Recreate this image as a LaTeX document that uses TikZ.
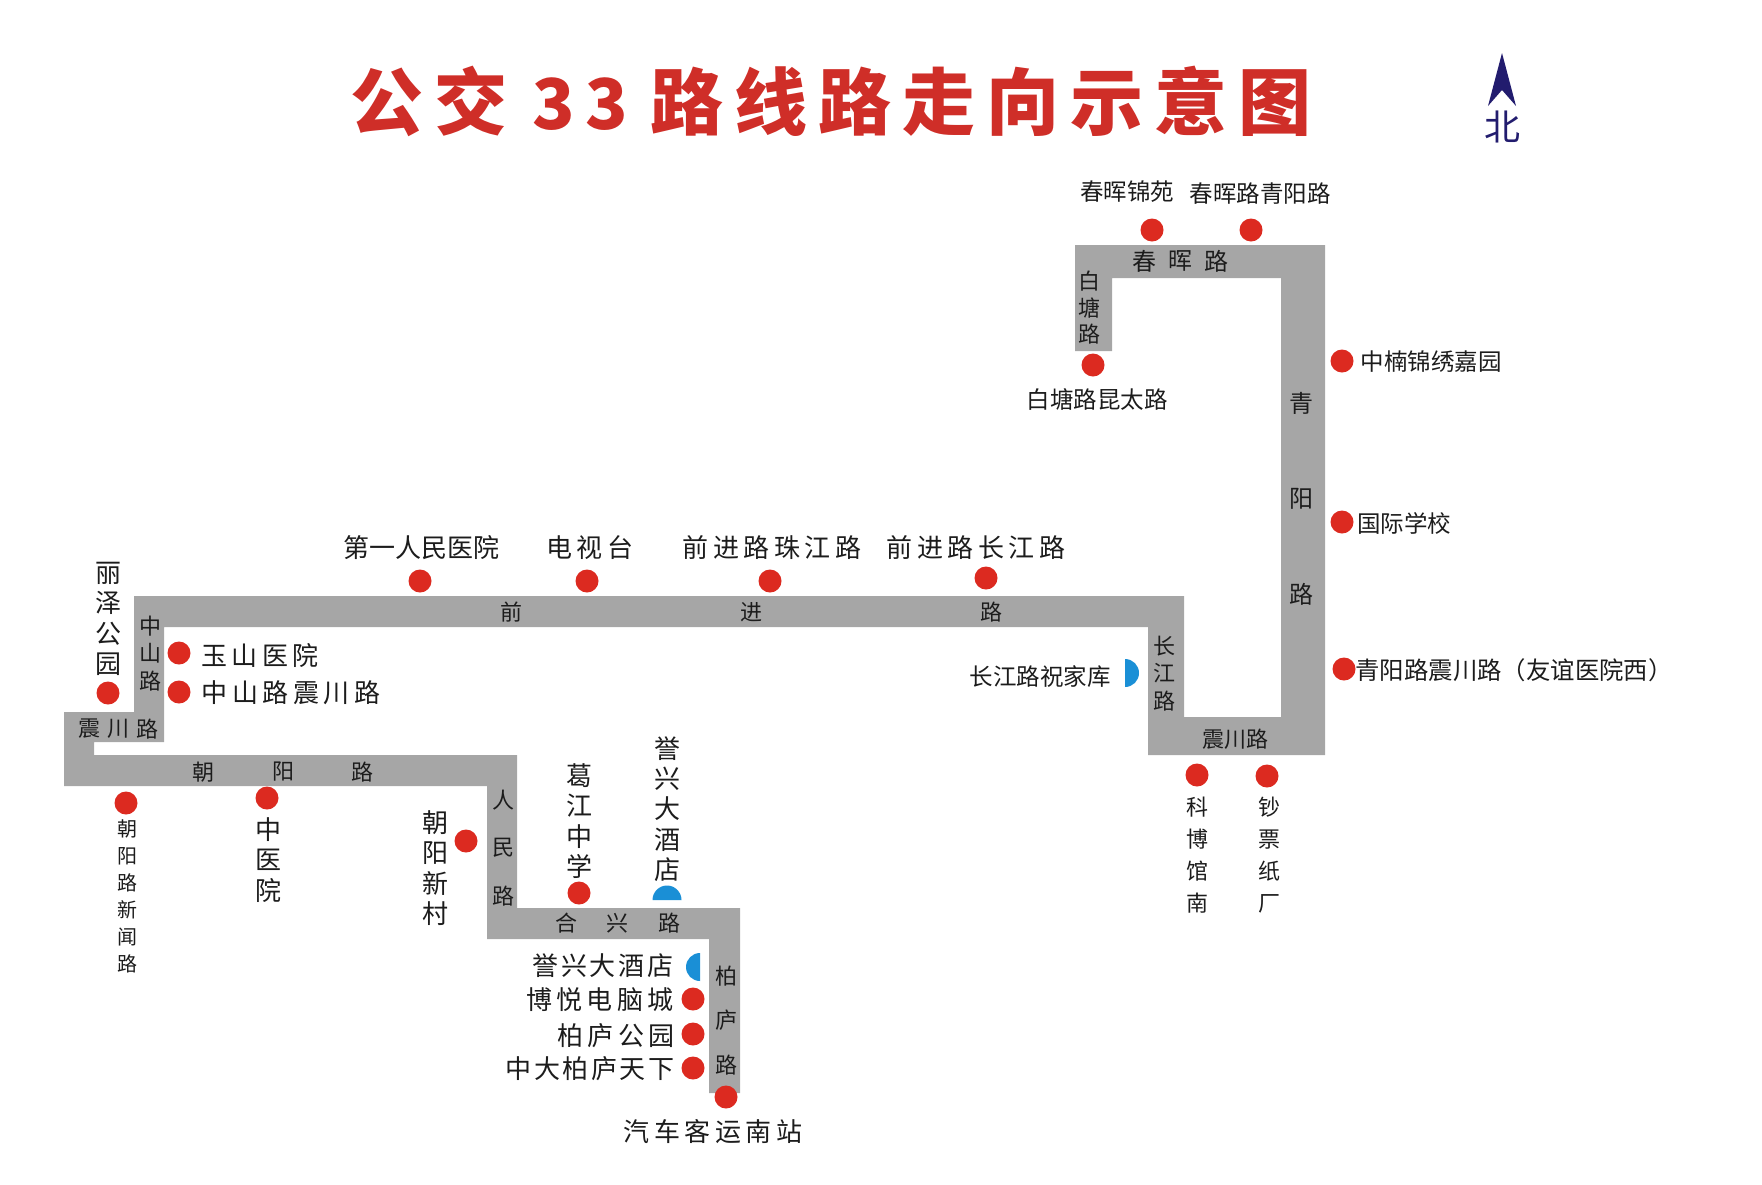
\documentclass[tikz,border=0pt]{standalone}
\usepackage{fontspec}
\setmainfont{Noto Sans CJK SC}
\newfontfamily\stopfont[LetterSpace=17]{Noto Sans CJK SC}
\newfontfamily\tightfont[LetterSpace=10]{Noto Sans CJK SC}
\newfontfamily\titlefont[LetterSpace=15]{Noto Sans CJK SC}

\definecolor{roadgray}{HTML}{A6A6A6}
\definecolor{stopred}{HTML}{DC2A20}
\definecolor{stopblue}{HTML}{1A8FD6}
\definecolor{titlered}{HTML}{CF2E28}
\definecolor{northblue}{HTML}{221C6E}
\definecolor{inkblack}{HTML}{1C1C1C}

\def\routepath{(64,712) -- (134,712) -- (134,596) -- (1184,596) -- (1184,717) -- (1281,717)
    -- (1281,278) -- (1112,278) -- (1112,351) -- (1075,351) -- (1075,245) -- (1325,245)
    -- (1325,755) -- (1148,755) -- (1148,627) -- (164,627) -- (164,742) -- (94,742)
    -- (94,755) -- (517,755) -- (517,908) -- (740,908) -- (740,1093) -- (709,1093)
    -- (709,939) -- (487,939) -- (487,786) -- (64,786) -- cycle}

\begin{document}
\begin{tikzpicture}[x=.5pt,y=-.5pt]
    \tikzset{
        stopdot/.style={circle, fill=stopred, minimum size=11.5pt, inner sep=0pt},
        halfdot/.style={fill=stopblue},
        basetxt/.style={inner sep=0pt, text=inkblack, align=center},
        stoptxt/.style={basetxt, font=\stopfont\fontsize{13}{15}\selectfont},
        tighttxt/.style={basetxt, font=\tightfont\fontsize{13}{15}\selectfont},
        thintxt/.style={basetxt, font=\fontsize{11.75}{14}\selectfont},
        vtxt/.style={basetxt, font=\fontsize{13}{15.2}\selectfont},
        vthintxt/.style={basetxt, font=\fontsize{11}{16}\selectfont},
        vtinytxt/.style={basetxt, font=\fontsize{10}{13.5}\selectfont},
        roadtxt/.style={basetxt, font=\fontsize{11}{13}\selectfont},
        roadbig/.style={basetxt, font=\fontsize{12}{14}\selectfont}
    }
    \useasboundingbox (0,0) rectangle (1762,1184);
    \fill[roadgray] \routepath;

    % title and north mark
    \node[inner sep=0pt, text=titlered, font=\titlefont\bfseries\fontsize{36.5}{42}\selectfont]
        (title) at (831,101) {公交\hspace{12.5pt}{\fontsize{35}{42}\selectfont 33}\hspace{11pt}路线路走向示意图};
    \fill[northblue] (1502,53) -- (1516,106) -- (1502,90) -- (1488,106) -- cycle;
    \node[inner sep=0pt, text=northblue, font=\fontsize{18}{20}\selectfont] (north) at (1502,127) {北};

    % stops
    \foreach \n/\x/\y in {jinyuan/1152/230, qingyang/1251/230, zhongnan/1342/361, kuntai/1093/365,
        guoji/1342/522, youyi/1344/669, kebo/1197/775, chaopiao/1267/776,
        diyi/420/581, dianshi/587/581, zhujiang/770/581, changjiang/986/578,
        lize/108/693, yushan/179/653, zhenchuan/179/692, xinwen/126/803, zhongyi/267/798,
        xincun/466/841, gejiang/579/893, boyue/693/999, gongyuan/693/1034, tianxia/693/1068,
        nanzhan/726/1097}
        \node[stopdot] (\n) at (\x,\y) {};
    \fill[halfdot] (652.5,900) arc[start angle=180, end angle=0, radius=7.25pt] -- cycle;
    \fill[halfdot] (700,953) arc[start angle=90, end angle=270, radius=7pt] -- cycle;
    \fill[halfdot] (1125,659) arc[start angle=90, end angle=-90, radius=7pt] -- cycle;

    % stop names
    \foreach \n/\t/\x/\y in {a/电视台/590/548, b/前进路珠江路/772/548, c/前进路长江路/976/548,
        d/玉山医院/260/655, e/中山路震川路/291/693, g/博悦电脑城/600/1000,
        h/柏庐公园/616/1036, j/汽车客运南站/713/1132}
        \node[stoptxt] (lab\n) at (\x,\y) {\t};
    \node[tighttxt] (labf) at (603,966) {誉兴大酒店};
    \node[tighttxt] (labi) at (590,1069) {中大柏庐天下};
    \node[vtxt] (labk) at (421,548) {第一人民医院};
    \foreach \n/\t/\x/\y in {a/春晖锦苑/1127/192, b/春晖路青阳路/1260/194, c/中楠锦绣嘉园/1431/362,
        d/白塘路昆太路/1097/399, e/长江路祝家库/1040/677, f/国际学校/1404/523}
        \node[thintxt] (thin\n) at (\x,\y) {\t};
    \node[basetxt, font=\fontsize{12.2}{14}\selectfont] (thing) at (1514,670) {青阳路震川路（友谊医院西）};
    \foreach \n/\t/\x/\y in {a/{丽\\泽\\公\\园}/108/619, b/{中\\医\\院}/268/860, c/{朝\\阳\\新\\村}/435/868,
        d/{葛\\江\\中\\学}/579/821, e/{誉\\兴\\大\\酒\\店}/667/809}
        \node[vtxt] (vert\n) at (\x,\y) {\t};
    \node[vthintxt] (vertf) at (1197,855) {科\\博\\馆\\南};
    \node[vthintxt] (vertg) at (1269,855) {钞\\票\\纸\\厂};
    \node[vtinytxt] (verth) at (127,896) {朝\\阳\\路\\新\\闻\\路};

    % road names
    \foreach \n/\t/\x/\y in {a/中/150/626, b/山/150/653, c/路/150/681, d/震/89/729, e/川/118/729,
        f/路/147/729, g/朝/203/772, h/阳/283/772, i/路/362/772, j/人/503/800, k/民/503/848,
        l/路/503/896, m/前/511/612, n/进/751/612, o/路/991/612, p/合/566/923, q/兴/617/923,
        r/路/669/923, s/柏/726/976, t/庐/726/1020, u/路/726/1065, v/长/1164/646, w/江/1164/673,
        x/路/1164/701, y/震川路/1235/739}
        \node[roadtxt] (road\n) at (\x,\y) {\t};
    \foreach \n/\t/\x/\y in {a/春/1144/261, b/晖/1180/261, c/路/1216/261, g/青/1301/403,
        h/阳/1301/499, i/路/1301/594}
        \node[roadbig] (big\n) at (\x,\y) {\t};
    \foreach \n/\t/\x/\y in {d/白/1089/281, e/塘/1089/308, f/路/1089/334}
        \node[roadtxt] (big\n) at (\x,\y) {\t};
\end{tikzpicture}
\end{document}
